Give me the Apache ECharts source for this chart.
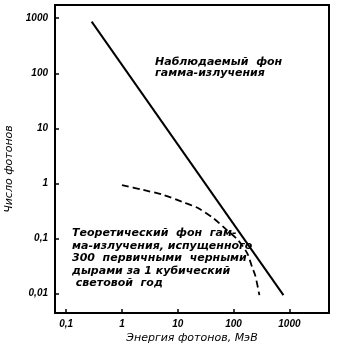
<!DOCTYPE html>
<html>
<head>
<meta charset="utf-8">
<script src="https://cdn.jsdelivr.net/npm/echarts@6/dist/echarts.min.js"></script>
<style>
html,body{margin:0;padding:0;background:#fff;}
#chart{width:339px;height:350px;}
</style>
</head>
<body>
<div id="chart"></div>
<script>
// Energy (MeV) / photon count readings
const observedEnergy = [0.286, 782];
const observedCount = [870, 0.0093];
const theoryEnergy = [1, 2.38, 5.4, 12, 23, 43, 76, 120, 175, 215, 245, 290];
const theoryCount = [0.93, 0.76, 0.62, 0.46, 0.355, 0.234, 0.141, 0.093, 0.054, 0.030, 0.021, 0.0093];
const xTickLabels = ['0,1', '1', '10', '100', '1000'];
const yTickLabels = ['0,01', '0,1', '1', '10', '100', '1000'];
const xName = 'Энергия фотонов, МэВ';
const yName = 'Число фотонов';
const observedLabel = 'Наблюдаемый  фон\nгамма-излучения';
const theoryLabel = 'Теоретический  фон  гам-\nма-излучения, испущенного\n300  первичными  черными\nдырами за 1 кубический\n световой  год';

function pairs(xs, ys) { return xs.map((x, i) => [x, ys[i]]); }
function fmt(labels) {
  return function (v) {
    const l = Math.log10(v);
    if (Math.abs(l - Math.round(l)) > 1e-6) return '';
    const s = String(+v.toPrecision(6)).replace('.', ',');
    return labels.indexOf(s) >= 0 ? s : '';
  };
}
const tickFont = { fontFamily: 'Liberation Sans', fontStyle: 'italic', fontWeight: 'bold', fontSize: 10, color: '#000' };
const noteFont = { fontFamily: 'DejaVu Sans', fontStyle: 'oblique', fontWeight: 'bold', fontSize: 11, fill: '#000' };
const nameFont = { fontFamily: 'DejaVu Sans', fontStyle: 'oblique', fontSize: 11, color: '#000' };

const chart = echarts.init(document.getElementById('chart'), null, { renderer: 'canvas' });
chart.setOption({
  animation: false,
  backgroundColor: '#fff',
  grid: { left: 55, right: 10, top: 5, bottom: 37, containLabel: false, outerBoundsMode: 'none',
    show: true, borderColor: '#000', borderWidth: 2 },
  xAxis: {
    type: 'log', logBase: 10, min: 0.063, max: 5130,
    name: xName, nameLocation: 'middle', nameGap: 20, nameMoveOverlap: false,
    nameTextStyle: nameFont,
    axisLine: { lineStyle: { color: '#000', width: 2 } },
    axisTick: { inside: true, length: 4, lineStyle: { color: '#000', width: 1.5 } },
    axisLabel: Object.assign({ margin: 6, formatter: fmt(xTickLabels), showMinLabel: true, showMaxLabel: true }, tickFont),
    splitLine: { show: false }, minorTick: { show: false }
  },
  yAxis: {
    type: 'log', logBase: 10, min: 0.0044, max: 1740,
    name: yName, nameLocation: 'middle', nameGap: 40, nameRotate: 90,
    nameTextStyle: Object.assign({ padding: [0, 20, 0, 0] }, nameFont),
    axisLine: { lineStyle: { color: '#000', width: 2 } },
    axisTick: { inside: true, length: 4, lineStyle: { color: '#000', width: 1.5 } },
    axisLabel: Object.assign({ margin: 7, formatter: fmt(yTickLabels) }, tickFont),
    splitLine: { show: false }, minorTick: { show: false }
  },
  series: [
    { type: 'line', data: pairs(observedEnergy, observedCount), showSymbol: false, symbol: 'none',
      lineStyle: { color: '#000', width: 2 } },
    { type: 'line', data: pairs(theoryEnergy, theoryCount), showSymbol: false, symbol: 'none', smooth: 0.3,
      lineStyle: { color: '#000', width: 1.8, type: [7, 4] } }
  ],
  graphic: [
    { type: 'text', left: 155, top: 57, style: Object.assign({ text: observedLabel, lineHeight: 11 }, noteFont) },
    { type: 'text', left: 72, top: 227, style: Object.assign({ text: theoryLabel, lineHeight: 12.5 }, noteFont) }
  ]
});
</script>
</body>
</html>
